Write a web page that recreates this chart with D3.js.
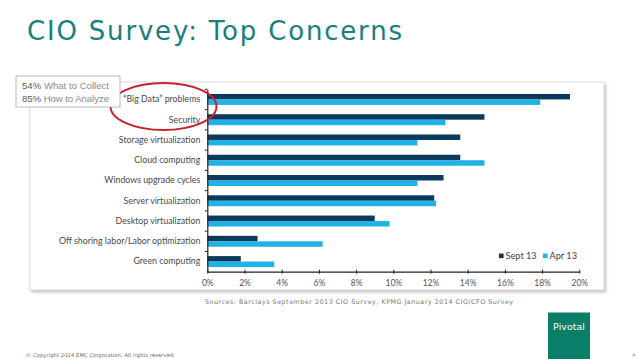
<!DOCTYPE html>
<html>
<head>
<meta charset="utf-8">
<script src="https://cdn.jsdelivr.net/npm/d3@7"></script>
<style>
  html, body { margin: 0; padding: 0; background: #ffffff; }
  svg { display: block; }
</style>
</head>
<body>
<svg id="chart" width="638" height="359"></svg>
<script>
// ---- Data ----
const categories = [
  "\u201CBig Data\u201D problems",
  "Security",
  "Storage virtualization",
  "Cloud computing",
  "Windows upgrade cycles",
  "Server virtualization",
  "Desktop virtualization",
  "Off shoring labor/Labor optimization",
  "Green computing"
];
const seriesNames = ["Sept 13", "Apr 13"];
const sept13 = [19.5, 14.9, 13.6, 13.6, 12.7, 12.2, 9.0, 2.7, 1.8];
const apr13  = [17.9, 12.8, 11.3, 14.9, 11.3, 12.3, 9.8, 6.2, 3.6];
const xTickValues = [0, 2, 4, 6, 8, 10, 12, 14, 16, 18, 20];
const xTickLabels = ["0%", "2%", "4%", "6%", "8%", "10%", "12%", "14%", "16%", "18%", "20%"];
const titleText = "CIO Survey: Top Concerns";
const noteLines = [["54%", " What to Collect"], ["85%", " How to Analyze"]];
const sourceText = "Sources: Barclays September 2013 CIO Survey, KPMG January 2014 CIO/CFO Survey";
const copyrightText = "\u00A9 Copyright 2014 EMC Corporation. All rights reserved.";

const colors = { "Sept 13": "#0c3a5c", "Apr 13": "#1eb2e6" };

const svg = d3.select("#chart");

// shadow filter
const defs = svg.append("defs");
const f = defs.append("filter").attr("id", "shadow").attr("x", "-5%").attr("y", "-5%").attr("width", "110%").attr("height", "115%");
f.append("feDropShadow").attr("dx", 1.5).attr("dy", 2).attr("stdDeviation", 1.8)
  .attr("flood-color", "#888").attr("flood-opacity", 0.55);

// Title
svg.append("text")
  .attr("x", 27).attr("y", 39.5)
  .attr("font-family", "DejaVu Sans")
  .attr("font-size", 26)
  .attr("fill", "#17807c")
  .attr("textLength", 375).attr("lengthAdjust", "spacing")
  .text(titleText);

// Panel
svg.append("rect")
  .attr("x", 30).attr("y", 82).attr("width", 574).attr("height", 208)
  .attr("fill", "#ffffff").attr("stroke", "#d8d8d8").attr("stroke-width", 0.8)
  .attr("filter", "url(#shadow)");

// Scales
const x = d3.scaleLinear().domain([0, 20]).range([207.3, 579.3]);
const y = d3.scaleBand().domain(categories).range([89.3, 271.7]).padding(0);
const yInner = d3.scaleBand().domain(seriesNames).range([0, y.bandwidth()]).paddingInner(0).paddingOuter(0.85);

const rows = categories.map((c, i) => ({ cat: c, values: [
  { key: "Sept 13", v: sept13[i] },
  { key: "Apr 13", v: apr13[i] }
]}));

const plot = svg.append("g");
const groups = plot.selectAll("g.row").data(rows).join("g")
  .attr("class", "row")
  .attr("transform", d => `translate(0,${y(d.cat)})`);
groups.selectAll("rect").data(d => d.values).join("rect")
  .attr("x", x(0))
  .attr("y", d => yInner(d.key))
  .attr("width", d => x(d.v) - x(0))
  .attr("height", yInner.bandwidth())
  .attr("fill", d => colors[d.key]);

// X axis
const xAxis = d3.axisBottom(x).tickValues(xTickValues)
  .tickFormat((d, i) => xTickLabels[i]).tickSize(3).tickSizeOuter(0).tickPadding(5);
const gx = svg.append("g").attr("transform", `translate(0,${y.range()[1]})`).call(xAxis);
gx.select(".domain").attr("stroke", "#222").attr("stroke-width", 1.2);
gx.selectAll(".tick line").attr("stroke", "#222").attr("y1", -2).attr("y2", 2);
gx.selectAll(".tick text").attr("font-family", "Lato").attr("font-size", 8.5).attr("fill", "#555");

// Y axis
const yAxis = d3.axisLeft(y).tickSize(0).tickPadding(7);
const gy = svg.append("g").attr("transform", `translate(${x(0)},0)`).call(yAxis);
gy.select(".domain").attr("stroke", "#222").attr("stroke-width", 1.2);
gy.selectAll(".tick text").attr("font-family", "Lato").attr("font-size", 8.8).attr("fill", "#4a4a4a");
// band boundary ticks
const boundaries = categories.map(c => y(c));
svg.append("g").selectAll("line").data(boundaries).join("line")
  .attr("x1", x(0) - 2.5).attr("x2", x(0))
  .attr("y1", d => d).attr("y2", d => d)
  .attr("stroke", "#222").attr("stroke-width", 1);

// Legend
const legend = svg.append("g").attr("transform", "translate(499,256)");
const legendX = d3.scalePoint().domain(seriesNames).range([0, 44]);
const li = legend.selectAll("g").data(seriesNames).join("g")
  .attr("transform", d => `translate(${legendX(d)},0)`);
li.append("rect").attr("x", 0).attr("y", -2.5).attr("width", 4.6).attr("height", 4.6)
  .attr("fill", d => colors[d]);
li.append("text").attr("x", 6.5).attr("y", 3.2)
  .attr("font-family", "Lato").attr("font-size", 9.2).attr("fill", "#444")
  .text(d => d);

// Annotation ellipse
svg.append("ellipse")
  .attr("cx", 163.5).attr("cy", 106.5).attr("rx", 53).attr("ry", 23.5)
  .attr("fill", "none").attr("stroke", "#c8232b").attr("stroke-width", 2);

// Annotation box
svg.append("rect")
  .attr("x", 16).attr("y", 76).attr("width", 104).attr("height", 31)
  .attr("fill", "#ffffff").attr("stroke", "#a8a8a8").attr("stroke-width", 0.8);
const noteText = svg.append("g");
noteLines.forEach((ln, i) => {
  const t = noteText.append("text")
    .attr("x", 22).attr("y", 89.3 + i * 12.4)
    .attr("font-family", "Liberation Sans").attr("font-size", 9.6)
    .attr("textLength", 87).attr("lengthAdjust", "spacing");
  t.append("tspan").attr("fill", "#5a5a5a").text(ln[0]);
  t.append("tspan").attr("fill", "#8c8c8c").text(ln[1]);
});

// Sources
svg.append("text")
  .attr("x", 205).attr("y", 303.5)
  .attr("font-family", "DejaVu Sans").attr("font-size", 6.4).attr("fill", "#7a7a7a")
  .attr("textLength", 308).attr("lengthAdjust", "spacing")
  .text(sourceText);

// Pivotal logo
svg.append("rect")
  .attr("x", 548).attr("y", 312.5).attr("width", 42).attr("height", 47)
  .attr("fill", "#0a7e68");
svg.append("text")
  .attr("x", 569).attr("y", 329.5).attr("text-anchor", "middle")
  .attr("font-family", "DejaVu Sans").attr("font-size", 9.5).attr("fill", "#ffffff")
  .text("Pivotal");

// Copyright
svg.append("text")
  .attr("x", 26).attr("y", 356.5)
  .attr("font-family", "DejaVu Sans").attr("font-size", 5.2).attr("fill", "#666")
  .attr("textLength", 149).attr("lengthAdjust", "spacing")
  .text(copyrightText);
svg.append("text")
  .attr("x", 632).attr("y", 356.5)
  .attr("font-family", "DejaVu Sans").attr("font-size", 5.2).attr("fill", "#999")
  .text("4");
</script>
</body>
</html>
